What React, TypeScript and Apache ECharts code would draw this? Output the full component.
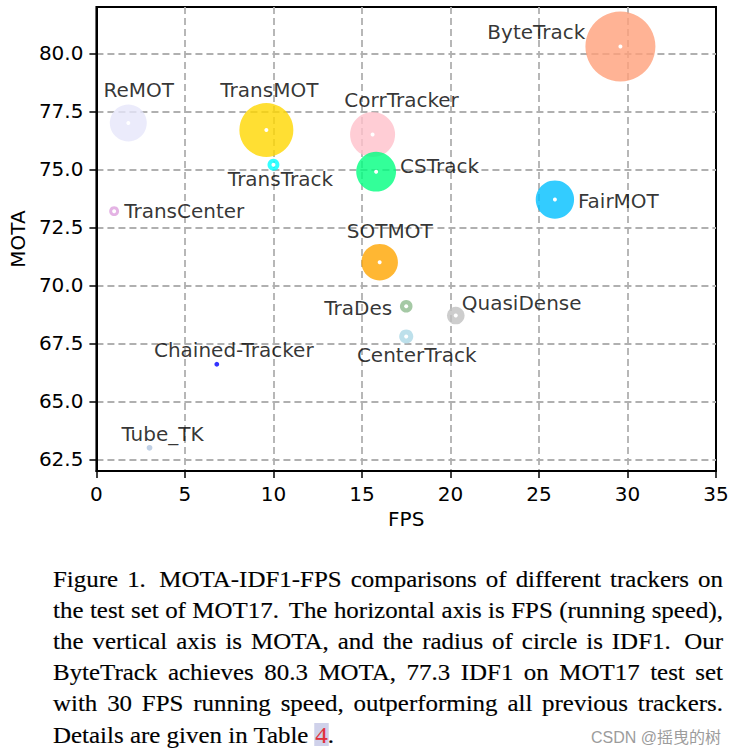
import React, { useEffect, useRef } from "react";
import * as echarts from "echarts";

// ---- data ----
const trackers = [
  "Tube_TK", "Chained-Tracker", "CenterTrack", "QuasiDense", "TraDes", "SOTMOT",
  "TransCenter", "FairMOT", "CorrTracker", "CSTrack", "TransTrack", "TransMOT", "ReMOT", "ByteTrack",
];
const fps = [3.0, 6.8, 17.5, 20.3, 17.5, 16.0, 1.0, 25.9, 15.6, 15.8, 10.0, 9.6, 1.8, 29.6];
const mota = [63.0, 66.6, 67.8, 68.7, 69.1, 71.0, 73.2, 73.7, 76.5, 74.9, 75.2, 76.7, 77.0, 80.3];
const idf1 = [58.6, 57.4, 64.7, 66.3, 63.9, 71.9, 62.2, 72.3, 73.6, 72.6, 63.5, 75.1, 72.0, 77.3];
const colors = [
  "lightsteelblue", "blue", "lightblue", "silver", "darkseagreen", "orange",
  "plum", "deepskyblue", "pink", "springgreen", "cyan", "gold", "lavender", "lightsalmon",
];
const xTicks = [0, 5, 10, 15, 20, 25, 30, 35];
const yTicks = [62.5, 65.0, 67.5, 70.0, 72.5, 75.0, 77.5, 80.0];

const captionLines = [
  "Figure 1. MOTA-IDF1-FPS comparisons of different trackers on",
  "the test set of MOT17. The horizontal axis is FPS (running speed),",
  "the vertical axis is MOTA, and the radius of circle is IDF1. Our",
  "ByteTrack achieves 80.3 MOTA, 77.3 IDF1 on MOT17 test set",
  "with 30 FPS running speed, outperforming all previous trackers.",
];
const captionLastPrefix = "Details are given in Table ";
const captionLastRef = "4";
const captionLastSuffix = ".";
const watermark = "CSDN @摇曳的树";

// ---- layout / style (not data) ----
const labelLayout: Record<string, { align: string; dx: number; dy: number }> = {
  ByteTrack: { align: "right", dx: -35, dy: -14 },
  ReMOT: { align: "center", dx: 10.5, dy: -33 },
  TransMOT: { align: "center", dx: 3, dy: -40 },
  TransTrack: { align: "center", dx: 7, dy: 14 },
  TransCenter: { align: "left", dx: 10, dy: 0 },
  CorrTracker: { align: "center", dx: 29, dy: -35 },
  CSTrack: { align: "left", dx: 24, dy: -6 },
  FairMOT: { align: "left", dx: 23, dy: 1.5 },
  SOTMOT: { align: "center", dx: 10, dy: -31 },
  TraDes: { align: "right", dx: -14, dy: 2 },
  CenterTrack: { align: "center", dx: 10.5, dy: 18.5 },
  QuasiDense: { align: "left", dx: 6, dy: -13 },
  "Chained-Tracker": { align: "center", dx: 17, dy: -14 },
  Tube_TK: { align: "center", dx: 13, dy: -14 },
};

const FONT = "'DejaVu Sans', sans-serif";
const diameter = (v: number) => 70 * Math.pow(v / 77.3, 9);

export default function App() {
  const ref = useRef<HTMLDivElement>(null);

  useEffect(() => {
    if (!ref.current) return;
    const chart = echarts.init(ref.current, null, { renderer: "svg" });

    // caption layout (justified, horizontally stretched serif text)
    const capSize = 23;
    const SX = 1.085;
    const capFont = `${capSize}px "Liberation Serif", "Times New Roman", serif`;
    const ctx = document.createElement("canvas").getContext("2d")!;
    ctx.font = capFont;
    const tw = (s: string) => ctx.measureText(s).width * SX;
    const left = 53;
    const right = 723;
    const lineStep = 31.2;
    const firstMid = 579;
    const captionEls: any[] = [];
    const addText = (text: string, x: number, y: number, fill = "#000") =>
      captionEls.push({
        type: "text",
        x,
        y,
        scaleX: SX,
        silent: true,
        style: {
          text,
          x: 0,
          y: 0,
          fill,
          stroke: fill,
          lineWidth: 0.15,
          font: capFont,
          verticalAlign: "middle",
          align: "left",
        },
      });
    captionLines.forEach((line, i) => {
      const words = line.split(" ");
      const widths = words.map(tw);
      const total = widths.reduce((a, b) => a + b, 0);
      const weights = words.slice(0, -1).map((w) => (/\.$/.test(w) ? 1.5 : 1));
      const wsum = weights.reduce((a, b) => a + b, 0);
      const unit = (right - left - total) / wsum;
      let x = left;
      const y = firstMid + i * lineStep;
      words.forEach((w, j) => {
        addText(w, x, y);
        x += widths[j] + (j < weights.length ? weights[j] * unit : 0);
      });
    });
    const yLast = firstMid + captionLines.length * lineStep;
    addText(captionLastPrefix, left, yLast);
    const x4 = left + tw(captionLastPrefix);
    const w4 = tw(captionLastRef);
    captionEls.push({
      type: "rect",
      silent: true,
      shape: { x: x4 - 1, y: yLast - 12, width: w4 + 2, height: 23 },
      style: { fill: "#cfd1ea" },
    });
    addText(captionLastRef, x4, yLast, "#e0303a");
    addText(captionLastSuffix, x4 + w4, yLast);
    captionEls.push({
      type: "text",
      x: 721,
      y: 737,
      silent: true,
      style: {
        text: watermark,
        fill: "#9c9c9c",
        font: `16px "Liberation Sans", "Noto Sans CJK SC", sans-serif`,
        align: "right",
        verticalAlign: "middle",
      },
    });

    const points = trackers.map((name, i) => {
      const L = labelLayout[name];
      return {
        name,
        value: [fps[i], mota[i], idf1[i]],
        symbolSize: diameter(idf1[i]),
        itemStyle: { color: colors[i], opacity: 0.8 },
        label: {
          show: true,
          formatter: name,
          position: "inside",
          align: L.align,
          verticalAlign: "middle",
          offset: [L.dx, L.dy],
          color: "#000",
          fontSize: 20,
          fontFamily: FONT,
        },
      };
    });
    const centers = trackers
      .map((name, i) => ({ name, value: [fps[i], mota[i]], d: diameter(idf1[i]) }))
      .filter((p) => p.d > 8)
      .map((p) => ({ name: p.name, value: p.value }));

    const axisText = { color: "#000", fontSize: 20, fontFamily: FONT };
    const gridLine = { show: true, lineStyle: { color: "#b0b0b0", width: 1.8, type: [7, 4] as any } };

    chart.setOption({
      animation: false,
      backgroundColor: "#fff",
      grid: {
        left: 94,
        top: 7,
        width: 622,
        height: 464,
        show: true,
        borderColor: "#000",
        borderWidth: 2,
        containLabel: false,
      },
      xAxis: {
        type: "value",
        min: xTicks[0],
        max: xTicks[xTicks.length - 1],
        interval: 5,
        name: "FPS",
        nameLocation: "middle",
        nameGap: 37,
        nameTextStyle: { ...axisText },
        axisLine: { show: true, onZero: false, lineStyle: { color: "#000", width: 2 } },
        axisTick: { show: true, inside: false, length: 7, lineStyle: { color: "#000", width: 1.5 } },
        axisLabel: { ...axisText, margin: 13, showMinLabel: true, showMaxLabel: true },
        splitLine: { ...gridLine, showMinLine: false, showMaxLine: false },
      },
      yAxis: {
        type: "value",
        min: 62,
        max: 82,
        name: "MOTA",
        nameLocation: "middle",
        nameGap: 66,
        nameTextStyle: { ...axisText },
        axisLine: { show: true, onZero: false, lineStyle: { color: "#000", width: 2 } },
        axisTick: {
          show: true,
          inside: false,
          length: 7,
          customValues: yTicks,
          lineStyle: { color: "#000", width: 1.5 },
        },
        axisLabel: {
          ...axisText,
          margin: 13,
          customValues: yTicks,
          formatter: (v: number) => v.toFixed(1),
        },
        splitLine: { ...gridLine },
      },
      series: [
        {
          type: "scatter",
          data: points,
          z: 2,
          silent: true,
        },
        {
          type: "scatter",
          data: centers,
          symbolSize: 4,
          itemStyle: { color: "#fff", opacity: 1 },
          z: 3,
          silent: true,
        },
      ],
      graphic: { elements: captionEls },
    });

    return () => chart.dispose();
  }, []);

  return (
    <div
      ref={ref}
      style={{ position: "absolute", left: 0, top: 0, width: 736, height: 754, background: "#fff" }}
    />
  );
}
